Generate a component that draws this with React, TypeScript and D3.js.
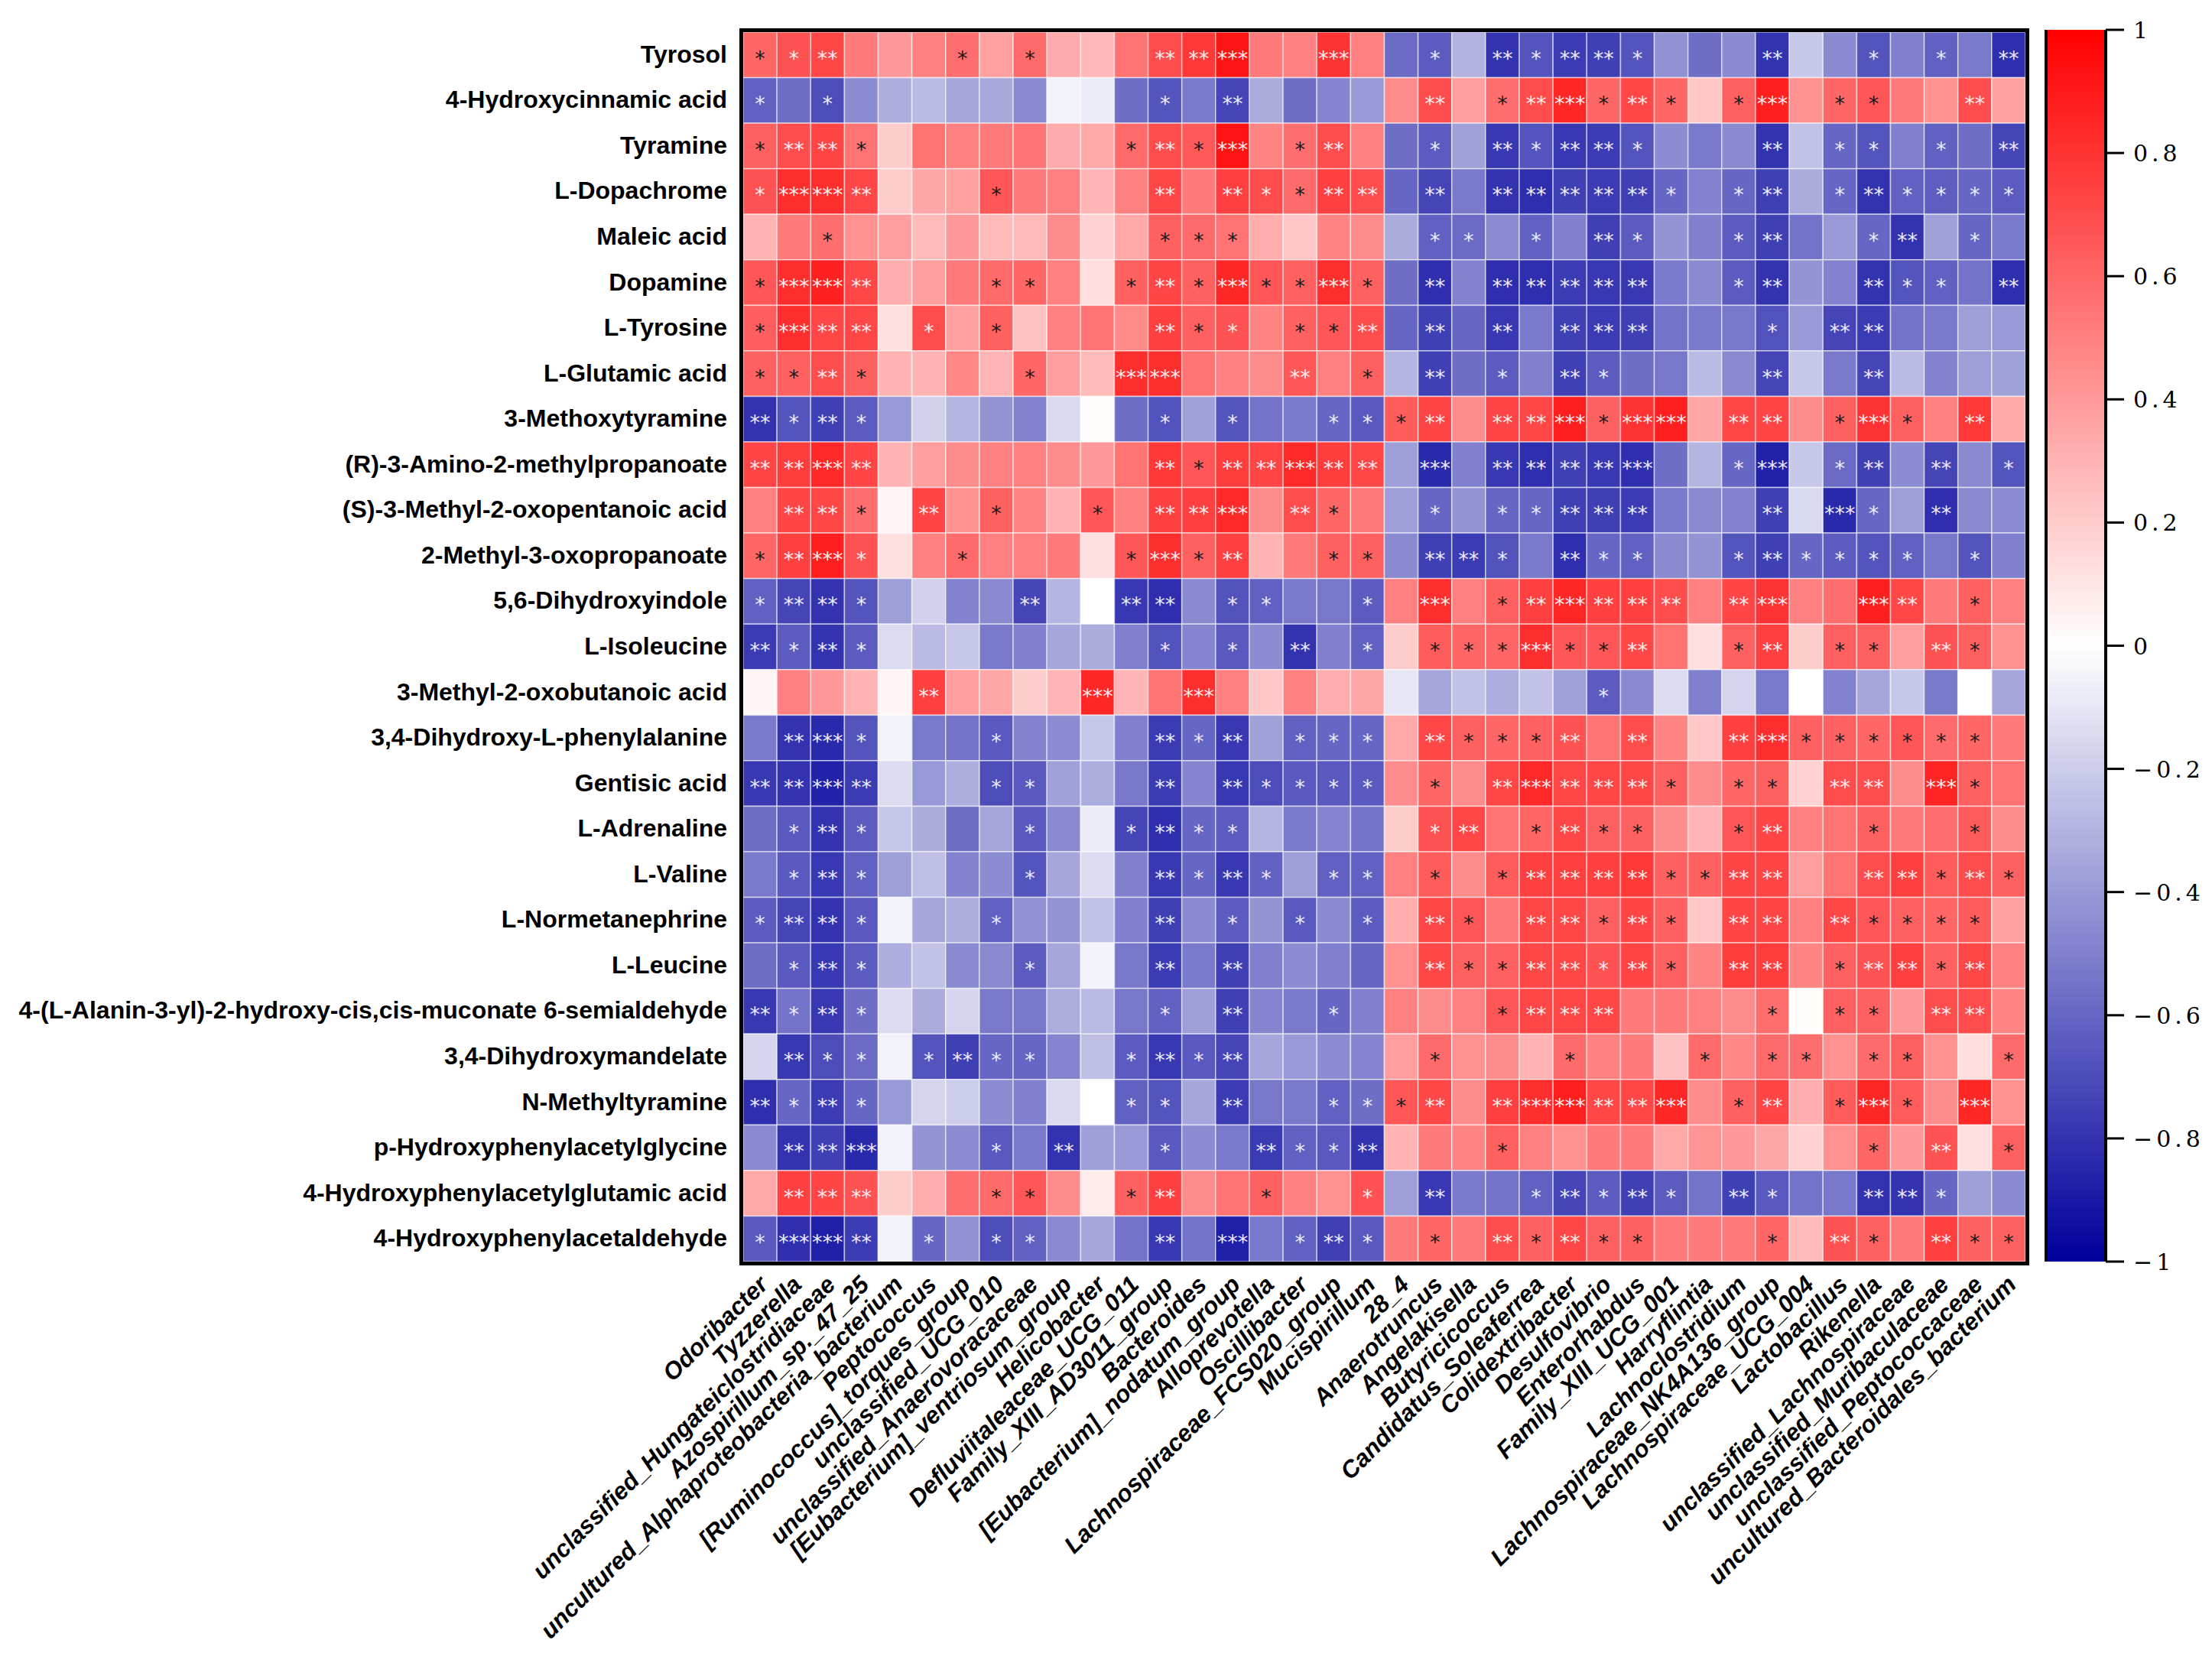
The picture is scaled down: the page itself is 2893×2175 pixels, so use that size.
import * as d3 from 'd3';

// metabolites (rows) and genera (columns)
const metabolites = [
  'Tyrosol',
  '4-Hydroxycinnamic acid',
  'Tyramine',
  'L-Dopachrome',
  'Maleic acid',
  'Dopamine',
  'L-Tyrosine',
  'L-Glutamic acid',
  '3-Methoxytyramine',
  '(R)-3-Amino-2-methylpropanoate',
  '(S)-3-Methyl-2-oxopentanoic acid',
  '2-Methyl-3-oxopropanoate',
  '5,6-Dihydroxyindole',
  'L-Isoleucine',
  '3-Methyl-2-oxobutanoic acid',
  '3,4-Dihydroxy-L-phenylalanine',
  'Gentisic acid',
  'L-Adrenaline',
  'L-Valine',
  'L-Normetanephrine',
  'L-Leucine',
  '4-(L-Alanin-3-yl)-2-hydroxy-cis,cis-muconate 6-semialdehyde',
  '3,4-Dihydroxymandelate',
  'N-Methyltyramine',
  'p-Hydroxyphenylacetylglycine',
  '4-Hydroxyphenylacetylglutamic acid',
  '4-Hydroxyphenylacetaldehyde',
];

const genera = [
  'Odoribacter', 'Tyzzerella', 'unclassified_Hungateiclostridiaceae', 'Azospirillum_sp._47_25',
  'uncultured_Alphaproteobacteria_bacterium', 'Peptococcus', '[Ruminococcus]_torques_group',
  'unclassified_UCG_010', 'unclassified_Anaerovoracaceae', '[Eubacterium]_ventriosum_group',
  'Helicobacter', 'Defluviitaleaceae_UCG_011', 'Family_XIII_AD3011_group', 'Bacteroides',
  '[Eubacterium]_nodatum_group', 'Alloprevotella', 'Oscillibacter', 'Lachnospiraceae_FCS020_group',
  'Mucispirillum', '28_4', 'Anaerotruncus', 'Angelakisella', 'Butyricicoccus',
  'Candidatus_Soleaferrea', 'Colidextribacter', 'Desulfovibrio', 'Enterorhabdus',
  'Family_XIII_UCG_001', 'Harryflintia', 'Lachnoclostridium', 'Lachnospiraceae_NK4A136_group',
  'Lachnospiraceae_UCG_004', 'Lactobacillus', 'Rikenella', 'unclassified_Lachnospiraceae',
  'unclassified_Muribaculaceae', 'unclassified_Peptococcaceae', 'uncultured_Bacteroidales_bacterium',
];

// correlation coefficients, one row per metabolite
const corr = [
  [0.6,0.68,0.72,0.52,0.4,0.5,0.57,0.37,0.58,0.33,0.28,0.55,0.7,0.78,0.92,0.52,0.5,0.8,0.5,-0.58,-0.64,-0.3,-0.8,-0.67,-0.77,-0.75,-0.67,-0.43,-0.57,-0.46,-0.8,-0.22,-0.46,-0.67,-0.5,-0.62,-0.52,-0.82],
  [-0.62,-0.57,-0.7,-0.45,-0.32,-0.27,-0.35,-0.34,-0.46,-0.05,-0.08,-0.57,-0.67,-0.52,-0.73,-0.33,-0.57,-0.48,-0.4,0.45,0.7,0.38,0.57,0.7,0.85,0.6,0.72,0.6,0.22,0.62,0.88,0.43,0.6,0.66,0.52,0.43,0.7,0.37],
  [0.62,0.7,0.73,0.55,0.2,0.55,0.5,0.52,0.54,0.33,0.34,0.58,0.7,0.65,0.93,0.48,0.57,0.7,0.5,-0.57,-0.64,-0.37,-0.78,-0.67,-0.78,-0.77,-0.67,-0.45,-0.52,-0.46,-0.8,-0.24,-0.6,-0.67,-0.5,-0.62,-0.57,-0.73],
  [0.68,0.82,0.82,0.72,0.2,0.35,0.37,0.66,0.52,0.5,0.29,0.5,0.72,0.52,0.75,0.7,0.58,0.75,0.7,-0.6,-0.73,-0.52,-0.8,-0.82,-0.75,-0.77,-0.75,-0.6,-0.49,-0.6,-0.75,-0.33,-0.6,-0.8,-0.62,-0.63,-0.6,-0.64],
  [0.3,0.52,0.57,0.43,0.38,0.27,0.4,0.27,0.27,0.45,0.18,0.34,0.62,0.58,0.55,0.32,0.22,0.48,0.45,-0.33,-0.62,-0.58,-0.45,-0.62,-0.5,-0.75,-0.64,-0.42,-0.5,-0.64,-0.75,-0.55,-0.4,-0.6,-0.8,-0.37,-0.6,-0.52],
  [0.66,0.82,0.87,0.72,0.32,0.38,0.52,0.58,0.6,0.5,0.13,0.62,0.73,0.62,0.85,0.66,0.62,0.82,0.62,-0.57,-0.82,-0.49,-0.82,-0.82,-0.77,-0.78,-0.78,-0.52,-0.46,-0.64,-0.8,-0.42,-0.49,-0.8,-0.67,-0.62,-0.55,-0.82],
  [0.63,0.82,0.72,0.72,0.12,0.7,0.37,0.62,0.24,0.5,0.55,0.46,0.75,0.62,0.68,0.48,0.62,0.66,0.7,-0.6,-0.75,-0.6,-0.78,-0.52,-0.75,-0.77,-0.75,-0.55,-0.52,-0.53,-0.68,-0.4,-0.73,-0.77,-0.55,-0.52,-0.38,-0.4],
  [0.62,0.62,0.7,0.62,0.3,0.3,0.47,0.29,0.6,0.38,0.27,0.82,0.82,0.55,0.5,0.45,0.66,0.5,0.62,-0.29,-0.75,-0.57,-0.64,-0.5,-0.75,-0.64,-0.57,-0.53,-0.27,-0.46,-0.73,-0.22,-0.52,-0.73,-0.27,-0.49,-0.38,-0.37],
  [-0.8,-0.67,-0.75,-0.64,-0.4,-0.18,-0.29,-0.42,-0.49,-0.15,0.01,-0.57,-0.68,-0.37,-0.67,-0.55,-0.52,-0.6,-0.65,0.64,0.73,0.45,0.73,0.72,0.88,0.62,0.8,0.88,0.35,0.72,0.73,0.45,0.62,0.8,0.62,0.5,0.78,0.34],
  [0.73,0.76,0.84,0.73,0.3,0.38,0.45,0.5,0.5,0.45,0.4,0.55,0.78,0.66,0.76,0.73,0.84,0.76,0.72,-0.38,-0.84,-0.5,-0.78,-0.82,-0.75,-0.78,-0.82,-0.57,-0.29,-0.6,-0.87,-0.22,-0.58,-0.75,-0.45,-0.73,-0.46,-0.67],
  [0.5,0.73,0.72,0.57,0.04,0.73,0.43,0.62,0.48,0.3,0.66,0.5,0.75,0.75,0.84,0.45,0.7,0.6,0.52,-0.38,-0.6,-0.42,-0.6,-0.6,-0.75,-0.75,-0.77,-0.52,-0.46,-0.49,-0.75,-0.15,-0.84,-0.6,-0.38,-0.82,-0.46,-0.45],
  [0.6,0.75,0.88,0.68,0.12,0.5,0.58,0.5,0.5,0.52,0.12,0.66,0.82,0.62,0.75,0.3,0.52,0.62,0.62,-0.46,-0.75,-0.77,-0.68,-0.52,-0.82,-0.6,-0.62,-0.46,-0.42,-0.67,-0.75,-0.6,-0.64,-0.67,-0.62,-0.53,-0.67,-0.5],
  [-0.62,-0.73,-0.8,-0.67,-0.38,-0.18,-0.49,-0.46,-0.73,-0.29,0,-0.78,-0.82,-0.46,-0.68,-0.62,-0.52,-0.53,-0.64,0.5,0.82,0.5,0.62,0.75,0.85,0.75,0.75,0.7,0.5,0.73,0.8,0.5,0.57,0.88,0.72,0.52,0.62,0.5],
  [-0.77,-0.64,-0.8,-0.64,-0.14,-0.27,-0.22,-0.52,-0.5,-0.35,-0.33,-0.5,-0.68,-0.48,-0.65,-0.45,-0.8,-0.5,-0.62,0.2,0.64,0.6,0.6,0.82,0.66,0.66,0.72,0.55,0.13,0.62,0.75,0.2,0.62,0.62,0.38,0.68,0.62,0.43],
  [0.04,0.5,0.4,0.3,0.04,0.75,0.38,0.35,0.2,0.29,0.85,0.29,0.55,0.82,0.5,0.22,0.5,0.32,0.35,-0.1,-0.35,-0.24,-0.32,-0.24,-0.37,-0.64,-0.46,-0.14,-0.5,-0.17,-0.52,0,-0.49,-0.35,-0.22,-0.52,0,-0.35],
  [-0.52,-0.8,-0.84,-0.67,-0.05,-0.52,-0.55,-0.65,-0.49,-0.45,-0.22,-0.5,-0.77,-0.6,-0.78,-0.37,-0.62,-0.6,-0.6,0.34,0.72,0.62,0.6,0.62,0.68,0.55,0.7,0.48,0.22,0.75,0.82,0.62,0.62,0.6,0.66,0.58,0.6,0.52],
  [-0.78,-0.8,-0.87,-0.77,-0.14,-0.4,-0.32,-0.7,-0.65,-0.37,-0.32,-0.53,-0.77,-0.48,-0.78,-0.7,-0.65,-0.65,-0.65,0.45,0.6,0.45,0.72,0.84,0.72,0.72,0.72,0.62,0.45,0.6,0.62,0.18,0.7,0.7,0.45,0.86,0.62,0.55],
  [-0.57,-0.65,-0.8,-0.64,-0.22,-0.33,-0.57,-0.35,-0.65,-0.46,-0.08,-0.73,-0.82,-0.6,-0.64,-0.29,-0.52,-0.48,-0.55,0.2,0.68,0.72,0.55,0.6,0.72,0.62,0.62,0.45,0.29,0.66,0.73,0.5,0.55,0.62,0.52,0.57,0.64,0.45],
  [-0.52,-0.65,-0.78,-0.62,-0.38,-0.25,-0.49,-0.45,-0.67,-0.35,-0.14,-0.5,-0.78,-0.6,-0.78,-0.62,-0.38,-0.62,-0.62,0.5,0.64,0.45,0.64,0.75,0.75,0.75,0.78,0.62,0.62,0.73,0.73,0.38,0.55,0.7,0.75,0.64,0.7,0.62],
  [-0.64,-0.73,-0.8,-0.65,-0.05,-0.35,-0.32,-0.62,-0.43,-0.42,-0.24,-0.5,-0.75,-0.46,-0.64,-0.42,-0.65,-0.46,-0.64,0.32,0.72,0.66,0.52,0.72,0.72,0.62,0.73,0.62,0.22,0.73,0.73,0.5,0.72,0.66,0.62,0.6,0.64,0.37],
  [-0.57,-0.65,-0.78,-0.64,-0.32,-0.24,-0.46,-0.46,-0.64,-0.35,-0.05,-0.53,-0.77,-0.52,-0.75,-0.5,-0.45,-0.5,-0.6,0.43,0.72,0.62,0.62,0.72,0.72,0.68,0.73,0.62,0.48,0.76,0.76,0.48,0.62,0.68,0.75,0.62,0.72,0.5],
  [-0.78,-0.55,-0.78,-0.57,-0.14,-0.33,-0.17,-0.52,-0.53,-0.32,-0.27,-0.53,-0.62,-0.38,-0.75,-0.48,-0.52,-0.6,-0.5,0.5,0.45,0.5,0.66,0.72,0.72,0.72,0.52,0.52,0.5,0.45,0.57,0.01,0.62,0.62,0.4,0.7,0.7,0.48],
  [-0.17,-0.78,-0.7,-0.58,-0.05,-0.67,-0.75,-0.6,-0.6,-0.48,-0.25,-0.64,-0.78,-0.65,-0.73,-0.35,-0.4,-0.45,-0.48,0.38,0.58,0.43,0.45,0.3,0.58,0.5,0.52,0.24,0.58,0.47,0.58,0.57,0.43,0.58,0.62,0.43,0.13,0.58],
  [-0.82,-0.6,-0.77,-0.6,-0.4,-0.17,-0.2,-0.45,-0.5,-0.15,0,-0.62,-0.67,-0.35,-0.77,-0.53,-0.52,-0.62,-0.57,0.66,0.72,0.45,0.75,0.82,0.88,0.72,0.72,0.85,0.45,0.62,0.73,0.32,0.64,0.85,0.64,0.45,0.85,0.43],
  [-0.46,-0.8,-0.75,-0.84,-0.05,-0.42,-0.45,-0.65,-0.52,-0.8,-0.38,-0.4,-0.65,-0.45,-0.52,-0.77,-0.62,-0.65,-0.8,0.3,0.52,0.48,0.62,0.5,0.43,0.52,0.52,0.34,0.42,0.4,0.35,0.18,0.43,0.6,0.4,0.68,0.12,0.62],
  [0.34,0.75,0.73,0.68,0.2,0.32,0.57,0.58,0.66,0.45,0.08,0.62,0.75,0.45,0.55,0.62,0.5,0.43,0.68,-0.38,-0.78,-0.52,-0.55,-0.62,-0.73,-0.64,-0.75,-0.64,-0.55,-0.75,-0.65,-0.55,-0.53,-0.8,-0.8,-0.6,-0.38,-0.46],
  [-0.65,-0.82,-0.88,-0.77,-0.05,-0.6,-0.43,-0.7,-0.62,-0.46,-0.35,-0.55,-0.78,-0.55,-0.88,-0.53,-0.62,-0.75,-0.65,0.52,0.6,0.52,0.7,0.62,0.72,0.62,0.62,0.52,0.52,0.52,0.6,0.27,0.68,0.62,0.52,0.75,0.62,0.62],
];

// significance level per cell: 0 none, 1 *, 2 **, 3 ***
const sig = [
  [1,1,2,0,0,0,1,0,1,0,0,0,2,2,3,0,0,3,0,0,1,0,2,1,2,2,1,0,0,0,2,0,0,1,0,1,0,2],
  [1,0,1,0,0,0,0,0,0,0,0,0,1,0,2,0,0,0,0,0,2,0,1,2,3,1,2,1,0,1,3,0,1,1,0,0,2,0],
  [1,2,2,1,0,0,0,0,0,0,0,1,2,1,3,0,1,2,0,0,1,0,2,1,2,2,1,0,0,0,2,0,1,1,0,1,0,2],
  [1,3,3,2,0,0,0,1,0,0,0,0,2,0,2,1,1,2,2,0,2,0,2,2,2,2,2,1,0,1,2,0,1,2,1,1,1,1],
  [0,0,1,0,0,0,0,0,0,0,0,0,1,1,1,0,0,0,0,0,1,1,0,1,0,2,1,0,0,1,2,0,0,1,2,0,1,0],
  [1,3,3,2,0,0,0,1,1,0,0,1,2,1,3,1,1,3,1,0,2,0,2,2,2,2,2,0,0,1,2,0,0,2,1,1,0,2],
  [1,3,2,2,0,1,0,1,0,0,0,0,2,1,1,0,1,1,2,0,2,0,2,0,2,2,2,0,0,0,1,0,2,2,0,0,0,0],
  [1,1,2,1,0,0,0,0,1,0,0,3,3,0,0,0,2,0,1,0,2,0,1,0,2,1,0,0,0,0,2,0,0,2,0,0,0,0],
  [2,1,2,1,0,0,0,0,0,0,0,0,1,0,1,0,0,1,1,1,2,0,2,2,3,1,3,3,0,2,2,0,1,3,1,0,2,0],
  [2,2,3,2,0,0,0,0,0,0,0,0,2,1,2,2,3,2,2,0,3,0,2,2,2,2,3,0,0,1,3,0,1,2,0,2,0,1],
  [0,2,2,1,0,2,0,1,0,0,1,0,2,2,3,0,2,1,0,0,1,0,1,1,2,2,2,0,0,0,2,0,3,1,0,2,0,0],
  [1,2,3,1,0,0,1,0,0,0,0,1,3,1,2,0,0,1,1,0,2,2,1,0,2,1,1,0,0,1,2,1,1,1,1,0,1,0],
  [1,2,2,1,0,0,0,0,2,0,0,2,2,0,1,1,0,0,1,0,3,0,1,2,3,2,2,2,0,2,3,0,0,3,2,0,1,0],
  [2,1,2,1,0,0,0,0,0,0,0,0,1,0,1,0,2,0,1,0,1,1,1,3,1,1,2,0,0,1,2,0,1,1,0,2,1,0],
  [0,0,0,0,0,2,0,0,0,0,3,0,0,3,0,0,0,0,0,0,0,0,0,0,0,1,0,0,0,0,0,0,0,0,0,0,0,0],
  [0,2,3,1,0,0,0,1,0,0,0,0,2,1,2,0,1,1,1,0,2,1,1,1,2,0,2,0,0,2,3,1,1,1,1,1,1,0],
  [2,2,3,2,0,0,0,1,1,0,0,0,2,0,2,1,1,1,1,0,1,0,2,3,2,2,2,1,0,1,1,0,2,2,0,3,1,0],
  [0,1,2,1,0,0,0,0,1,0,0,1,2,1,1,0,0,0,0,0,1,2,0,1,2,1,1,0,0,1,2,0,0,1,0,0,1,0],
  [0,1,2,1,0,0,0,0,1,0,0,0,2,1,2,1,0,1,1,0,1,0,1,2,2,2,2,1,1,2,2,0,0,2,2,1,2,1],
  [1,2,2,1,0,0,0,1,0,0,0,0,2,0,1,0,1,0,1,0,2,1,0,2,2,1,2,1,0,2,2,0,2,1,1,1,1,0],
  [0,1,2,1,0,0,0,0,1,0,0,0,2,0,2,0,0,0,0,0,2,1,1,2,2,1,2,1,0,2,2,0,1,2,2,1,2,0],
  [2,1,2,1,0,0,0,0,0,0,0,0,1,0,2,0,0,1,0,0,0,0,1,2,2,2,0,0,0,0,1,0,1,1,0,2,2,0],
  [0,2,1,1,0,1,2,1,1,0,0,1,2,1,2,0,0,0,0,0,1,0,0,0,1,0,0,0,1,0,1,1,0,1,1,0,0,1],
  [2,1,2,1,0,0,0,0,0,0,0,1,1,0,2,0,0,1,1,1,2,0,2,3,3,2,2,3,0,1,2,0,1,3,1,0,3,0],
  [0,2,2,3,0,0,0,1,0,2,0,0,1,0,0,2,1,1,2,0,0,0,1,0,0,0,0,0,0,0,0,0,0,1,0,2,0,1],
  [0,2,2,2,0,0,0,1,1,0,0,1,2,0,0,1,0,0,1,0,2,0,0,1,2,1,2,1,0,2,1,0,0,2,2,1,0,0],
  [1,3,3,2,0,1,0,1,1,0,0,0,2,0,3,0,1,2,1,0,1,0,2,1,2,1,1,0,0,0,1,0,2,1,0,2,1,1],
];

const barTicks = [1, 0.8, 0.6, 0.4, 0.2, 0, -0.2, -0.4, -0.6, -0.8, -1];

const W = 2893;
const H = 2175;
const left = 972, right = 2649, top = 42, bottom = 1650;
const barX = 2676, barW = 78, barTop = 39, barBottom = 1650;

const x = d3.scaleBand<string>().domain(genera).range([left, right]);
const y = d3.scaleBand<string>().domain(metabolites).range([top, bottom]);
const color = d3.scaleLinear<string>().domain([-1, 0, 1]).range(['#00009c', '#ffffff', '#ff0000']);
const yBar = d3.scaleLinear().domain([-1, 1]).range([barBottom, barTop]);

const sans = '"Liberation Sans", Arial, sans-serif';

function starColor(v: number, level: number) {
  if (v < 0) return '#ececff';
  return level >= 2 || v >= 0.68 ? '#ffecec' : '#1a1a1a';
}

function fmt(t: number) {
  const s = d3.format('')(t);
  return s.replace('-', '\u2212');
}

export default function App() {
  const bw = x.bandwidth();
  const bh = y.bandwidth();
  const stops = d3.range(0, 1.0001, 0.05);

  return (
    <svg width={W} height={H} style={{ position: 'absolute', left: 0, top: 0, background: '#fff' }}>
      <defs>
        <linearGradient id="bar" x1="0" y1="1" x2="0" y2="0">
          {stops.map((s) => (
            <stop key={s} offset={s} stopColor={color(-1 + 2 * s)} />
          ))}
        </linearGradient>
      </defs>

      {/* cells */}
      <g>
        {metabolites.map((m, i) =>
          genera.map((g, j) => (
            <rect
              key={m + g}
              x={x(g)}
              y={y(m)}
              width={bw}
              height={bh}
              fill={color(corr[i][j])}
              stroke="rgba(255,255,255,0.55)"
              strokeWidth={1.6}
            />
          ))
        )}
      </g>

      {/* significance stars */}
      <g fontFamily='"DejaVu Sans", sans-serif' fontSize={27} textAnchor="middle">
        {metabolites.map((m, i) =>
          genera.map((g, j) =>
            sig[i][j] > 0 ? (
              <text
                key={'s' + m + g}
                x={(x(g) as number) + bw / 2}
                y={(y(m) as number) + bh / 2 + 14}
                fill={starColor(corr[i][j], sig[i][j])}
              >
                {'*'.repeat(sig[i][j])}
              </text>
            ) : null
          )
        )}
      </g>

      <rect x={left - 2.5} y={top - 2.5} width={right - left + 5} height={bottom - top + 5} fill="none" stroke="#000" strokeWidth={5} />

      {/* row labels */}
      <g fontFamily={sans} fontWeight="bold" fontSize={32} textAnchor="end">
        {metabolites.map((m) => (
          <text key={m} x={951} y={(y(m) as number) + bh / 2 + 10}>
            {m}
          </text>
        ))}
      </g>

      {/* column labels */}
      <g fontFamily={sans} fontWeight="bold" fontStyle="italic" fontSize={31.5} textAnchor="end">
        {genera.map((g) => (
          <text key={g} transform={`translate(${(x(g) as number) + bw / 2 + 12},${bottom + 32}) rotate(-45)`}>
            {g}
          </text>
        ))}
      </g>

      {/* colour bar */}
      <rect x={barX} y={barTop} width={barW} height={barBottom - barTop} fill="url(#bar)" />
      <line x1={barX} x2={barX} y1={barTop} y2={barBottom} stroke="#000" strokeWidth={4} />
      <line x1={barX + barW} x2={barX + barW} y1={barTop} y2={barBottom} stroke="#000" strokeWidth={4} />
      <g fontFamily='"DejaVu Serif", serif' fontSize={30}>
        {barTicks.map((t) => (
          <g key={t}>
            <line x1={barX + barW} x2={barX + barW + 24} y1={yBar(t)} y2={yBar(t)} stroke="#000" strokeWidth={3} />
            <text x={barX + barW + 36} y={yBar(t) + 11} letterSpacing={5}>
              {fmt(t)}
            </text>
          </g>
        ))}
      </g>
    </svg>
  );
}
